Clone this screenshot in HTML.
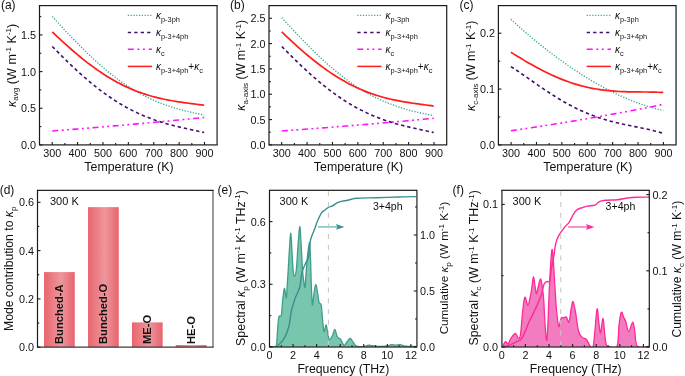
<!DOCTYPE html>
<html><head><meta charset="utf-8"><style>
html,body{margin:0;padding:0;background:#fff;width:685px;height:376px;overflow:hidden}
svg{display:block;will-change:transform}
text{font-family:"Liberation Sans", sans-serif;fill:#111}
</style></head><body>
<svg width="685" height="376" viewBox="0 0 685 376">
<path d="M52.30,16.50 L54.87,19.32 L57.45,22.12 L60.02,24.92 L62.60,27.70 L65.17,30.46 L67.75,33.20 L70.32,35.92 L72.90,38.62 L75.47,41.28 L78.05,43.92 L80.62,46.52 L83.19,49.08 L85.77,51.61 L88.34,54.10 L90.92,56.55 L93.49,58.95 L96.07,61.31 L98.64,63.62 L101.22,65.88 L103.79,68.10 L106.37,70.26 L108.94,72.37 L111.52,74.43 L114.09,76.43 L116.66,78.38 L119.24,80.28 L121.81,82.12 L124.39,83.91 L126.96,85.63 L129.54,87.31 L132.11,88.92 L134.69,90.48 L137.26,91.99 L139.84,93.44 L142.41,94.83 L144.98,96.17 L147.56,97.46 L150.13,98.69 L152.71,99.87 L155.28,101.00 L157.86,102.08 L160.43,103.11 L163.01,104.09 L165.58,105.03 L168.16,105.92 L170.73,106.77 L173.31,107.58 L175.88,108.35 L178.45,109.09 L181.03,109.79 L183.60,110.46 L186.18,111.10 L188.75,111.72 L191.33,112.30 L193.90,112.87 L196.48,113.42 L199.05,113.96 L201.63,114.48 L204.20,114.99" fill="none" stroke="#3aa78a" stroke-width="1.4" stroke-dasharray="1.2 1.6"/>
<path d="M52.30,46.44 L54.87,49.07 L57.45,51.68 L60.02,54.26 L62.60,56.83 L65.17,59.37 L67.75,61.87 L70.32,64.35 L72.90,66.80 L75.47,69.20 L78.05,71.57 L80.62,73.91 L83.19,76.20 L85.77,78.44 L88.34,80.65 L90.92,82.80 L93.49,84.91 L96.07,86.97 L98.64,88.99 L101.22,90.95 L103.79,92.86 L106.37,94.72 L108.94,96.52 L111.52,98.28 L114.09,99.98 L116.66,101.62 L119.24,103.22 L121.81,104.76 L124.39,106.25 L126.96,107.68 L129.54,109.06 L132.11,110.39 L134.69,111.67 L137.26,112.90 L139.84,114.08 L142.41,115.21 L144.98,116.29 L147.56,117.33 L150.13,118.32 L152.71,119.27 L155.28,120.17 L157.86,121.04 L160.43,121.87 L163.01,122.66 L165.58,123.42 L168.16,124.15 L170.73,124.85 L173.31,125.52 L175.88,126.17 L178.45,126.80 L181.03,127.41 L183.60,128.00 L186.18,128.58 L188.75,129.15 L191.33,129.71 L193.90,130.28 L196.48,130.84 L199.05,131.41 L201.63,131.99 L204.20,132.58" fill="none" stroke="#43106b" stroke-width="1.6" stroke-dasharray="3.4 2.9"/>
<path d="M52.30,130.97 L54.87,130.77 L57.45,130.57 L60.02,130.37 L62.60,130.17 L65.17,129.96 L67.75,129.76 L70.32,129.55 L72.90,129.35 L75.47,129.14 L78.05,128.93 L80.62,128.72 L83.19,128.51 L85.77,128.30 L88.34,128.09 L90.92,127.88 L93.49,127.67 L96.07,127.45 L98.64,127.24 L101.22,127.02 L103.79,126.80 L106.37,126.58 L108.94,126.36 L111.52,126.14 L114.09,125.92 L116.66,125.70 L119.24,125.47 L121.81,125.25 L124.39,125.02 L126.96,124.80 L129.54,124.57 L132.11,124.34 L134.69,124.11 L137.26,123.88 L139.84,123.65 L142.41,123.41 L144.98,123.18 L147.56,122.95 L150.13,122.71 L152.71,122.47 L155.28,122.23 L157.86,122.00 L160.43,121.76 L163.01,121.51 L165.58,121.27 L168.16,121.03 L170.73,120.78 L173.31,120.54 L175.88,120.29 L178.45,120.05 L181.03,119.80 L183.60,119.55 L186.18,119.30 L188.75,119.04 L191.33,118.79 L193.90,118.54 L196.48,118.28 L199.05,118.03 L201.63,117.77 L204.20,117.51" fill="none" stroke="#ff12ff" stroke-width="1.6" stroke-dasharray="6 3.5 1.9 3.3 1.9 3.6"/>
<path d="M52.30,31.94 L54.87,34.38 L57.45,36.80 L60.02,39.20 L62.60,41.57 L65.17,43.91 L67.75,46.22 L70.32,48.50 L72.90,50.74 L75.47,52.95 L78.05,55.11 L80.62,57.24 L83.19,59.32 L85.77,61.35 L88.34,63.34 L90.92,65.29 L93.49,67.18 L96.07,69.03 L98.64,70.83 L101.22,72.57 L103.79,74.26 L106.37,75.91 L108.94,77.49 L111.52,79.03 L114.09,80.51 L116.66,81.94 L119.24,83.31 L121.81,84.63 L124.39,85.90 L126.96,87.11 L129.54,88.27 L132.11,89.38 L134.69,90.44 L137.26,91.45 L139.84,92.41 L142.41,93.32 L144.98,94.18 L147.56,94.99 L150.13,95.77 L152.71,96.49 L155.28,97.18 L157.86,97.82 L160.43,98.43 L163.01,99.00 L165.58,99.54 L168.16,100.05 L170.73,100.52 L173.31,100.97 L175.88,101.39 L178.45,101.80 L181.03,102.18 L183.60,102.55 L186.18,102.90 L188.75,103.24 L191.33,103.58 L193.90,103.91 L196.48,104.24 L199.05,104.58 L201.63,104.92 L204.20,105.27" fill="none" stroke="#ff1d1d" stroke-width="1.7"/>
<path d="M281.80,17.70 L284.37,20.51 L286.95,23.30 L289.52,26.09 L292.10,28.86 L294.67,31.61 L297.25,34.34 L299.82,37.05 L302.40,39.74 L304.97,42.39 L307.55,45.02 L310.12,47.61 L312.69,50.16 L315.27,52.68 L317.84,55.16 L320.42,57.59 L322.99,59.99 L325.57,62.34 L328.14,64.64 L330.72,66.89 L333.29,69.09 L335.87,71.25 L338.44,73.35 L341.02,75.40 L343.59,77.39 L346.16,79.33 L348.74,81.22 L351.31,83.05 L353.89,84.82 L356.46,86.54 L359.04,88.20 L361.61,89.81 L364.19,91.36 L366.76,92.85 L369.34,94.29 L371.91,95.67 L374.48,97.00 L377.06,98.28 L379.63,99.50 L382.21,100.67 L384.78,101.79 L387.36,102.86 L389.93,103.88 L392.51,104.85 L395.08,105.78 L397.66,106.66 L400.23,107.50 L402.81,108.30 L405.38,109.07 L407.95,109.79 L410.53,110.48 L413.10,111.14 L415.68,111.77 L418.25,112.38 L420.83,112.96 L423.40,113.51 L425.98,114.05 L428.55,114.58 L431.13,115.09 L433.70,115.59" fill="none" stroke="#3aa78a" stroke-width="1.4" stroke-dasharray="1.2 1.6"/>
<path d="M281.80,46.44 L284.37,49.07 L286.95,51.68 L289.52,54.26 L292.10,56.83 L294.67,59.37 L297.25,61.87 L299.82,64.35 L302.40,66.80 L304.97,69.20 L307.55,71.57 L310.12,73.91 L312.69,76.20 L315.27,78.44 L317.84,80.65 L320.42,82.80 L322.99,84.91 L325.57,86.97 L328.14,88.99 L330.72,90.95 L333.29,92.86 L335.87,94.72 L338.44,96.52 L341.02,98.28 L343.59,99.98 L346.16,101.62 L348.74,103.22 L351.31,104.76 L353.89,106.25 L356.46,107.68 L359.04,109.06 L361.61,110.39 L364.19,111.67 L366.76,112.90 L369.34,114.08 L371.91,115.21 L374.48,116.29 L377.06,117.33 L379.63,118.32 L382.21,119.27 L384.78,120.17 L387.36,121.04 L389.93,121.87 L392.51,122.66 L395.08,123.42 L397.66,124.15 L400.23,124.85 L402.81,125.52 L405.38,126.17 L407.95,126.80 L410.53,127.41 L413.10,128.00 L415.68,128.58 L418.25,129.15 L420.83,129.71 L423.40,130.28 L425.98,130.84 L428.55,131.41 L431.13,131.99 L433.70,132.58" fill="none" stroke="#43106b" stroke-width="1.6" stroke-dasharray="3.4 2.9"/>
<path d="M281.80,130.97 L284.37,130.78 L286.95,130.60 L289.52,130.41 L292.10,130.22 L294.67,130.03 L297.25,129.84 L299.82,129.65 L302.40,129.46 L304.97,129.26 L307.55,129.07 L310.12,128.87 L312.69,128.68 L315.27,128.48 L317.84,128.28 L320.42,128.08 L322.99,127.88 L325.57,127.68 L328.14,127.48 L330.72,127.28 L333.29,127.07 L335.87,126.87 L338.44,126.66 L341.02,126.45 L343.59,126.25 L346.16,126.04 L348.74,125.83 L351.31,125.61 L353.89,125.40 L356.46,125.19 L359.04,124.98 L361.61,124.76 L364.19,124.54 L366.76,124.33 L369.34,124.11 L371.91,123.89 L374.48,123.67 L377.06,123.45 L379.63,123.22 L382.21,123.00 L384.78,122.78 L387.36,122.55 L389.93,122.32 L392.51,122.10 L395.08,121.87 L397.66,121.64 L400.23,121.41 L402.81,121.18 L405.38,120.94 L407.95,120.71 L410.53,120.47 L413.10,120.24 L415.68,120.00 L418.25,119.76 L420.83,119.52 L423.40,119.28 L425.98,119.04 L428.55,118.80 L431.13,118.55 L433.70,118.31" fill="none" stroke="#ff12ff" stroke-width="1.6" stroke-dasharray="6 3.5 1.9 3.3 1.9 3.6"/>
<path d="M281.80,31.94 L284.37,34.40 L286.95,36.83 L289.52,39.24 L292.10,41.63 L294.67,43.98 L297.25,46.31 L299.82,48.60 L302.40,50.85 L304.97,53.07 L307.55,55.25 L310.12,57.38 L312.69,59.48 L315.27,61.53 L317.84,63.53 L320.42,65.49 L322.99,67.40 L325.57,69.26 L328.14,71.07 L330.72,72.83 L333.29,74.54 L335.87,76.19 L338.44,77.79 L341.02,79.34 L343.59,80.83 L346.16,82.28 L348.74,83.66 L351.31,85.00 L353.89,86.28 L356.46,87.51 L359.04,88.68 L361.61,89.80 L364.19,90.88 L366.76,91.90 L369.34,92.87 L371.91,93.79 L374.48,94.67 L377.06,95.50 L379.63,96.28 L382.21,97.02 L384.78,97.72 L387.36,98.38 L389.93,99.00 L392.51,99.59 L395.08,100.14 L397.66,100.66 L400.23,101.15 L402.81,101.61 L405.38,102.05 L407.95,102.46 L410.53,102.86 L413.10,103.24 L415.68,103.60 L418.25,103.96 L420.83,104.31 L423.40,104.66 L425.98,105.00 L428.55,105.35 L431.13,105.71 L433.70,106.07" fill="none" stroke="#ff1d1d" stroke-width="1.7"/>
<path d="M510.90,19.34 L513.48,21.70 L516.07,24.04 L518.65,26.35 L521.23,28.63 L523.82,30.89 L526.40,33.12 L528.98,35.33 L531.56,37.51 L534.15,39.66 L536.73,41.79 L539.31,43.89 L541.90,45.97 L544.48,48.02 L547.06,50.04 L549.65,52.04 L552.23,54.01 L554.81,55.95 L557.39,57.87 L559.98,59.76 L562.56,61.63 L565.14,63.46 L567.73,65.27 L570.31,67.05 L572.89,68.81 L575.48,70.53 L578.06,72.23 L580.64,73.90 L583.23,75.54 L585.81,77.15 L588.39,78.74 L590.97,80.29 L593.56,81.82 L596.14,83.31 L598.72,84.78 L601.31,86.21 L603.89,87.61 L606.47,88.98 L609.06,90.32 L611.64,91.63 L614.22,92.91 L616.81,94.15 L619.39,95.36 L621.97,96.54 L624.55,97.68 L627.14,98.79 L629.72,99.86 L632.30,100.90 L634.89,101.91 L637.47,102.87 L640.05,103.81 L642.64,104.70 L645.22,105.55 L647.80,106.37 L650.38,107.15 L652.97,107.89 L655.55,108.59 L658.13,109.25 L660.72,109.87 L663.30,110.45" fill="none" stroke="#3aa78a" stroke-width="1.4" stroke-dasharray="1.2 1.6"/>
<path d="M510.90,66.56 L513.48,68.24 L516.07,69.96 L518.65,71.71 L521.23,73.48 L523.82,75.26 L526.40,77.06 L528.98,78.86 L531.56,80.67 L534.15,82.47 L536.73,84.26 L539.31,86.04 L541.90,87.81 L544.48,89.55 L547.06,91.28 L549.65,92.98 L552.23,94.65 L554.81,96.28 L557.39,97.88 L559.98,99.45 L562.56,100.98 L565.14,102.46 L567.73,103.91 L570.31,105.31 L572.89,106.66 L575.48,107.97 L578.06,109.23 L580.64,110.45 L583.23,111.62 L585.81,112.74 L588.39,113.81 L590.97,114.84 L593.56,115.82 L596.14,116.75 L598.72,117.64 L601.31,118.49 L603.89,119.30 L606.47,120.07 L609.06,120.79 L611.64,121.49 L614.22,122.15 L616.81,122.78 L619.39,123.38 L621.97,123.96 L624.55,124.52 L627.14,125.06 L629.72,125.59 L632.30,126.11 L634.89,126.63 L637.47,127.14 L640.05,127.66 L642.64,128.19 L645.22,128.73 L647.80,129.29 L650.38,129.88 L652.97,130.50 L655.55,131.16 L658.13,131.86 L660.72,132.61 L663.30,133.42" fill="none" stroke="#43106b" stroke-width="1.6" stroke-dasharray="3.4 2.9"/>
<path d="M510.90,130.73 L513.48,130.36 L516.07,129.98 L518.65,129.61 L521.23,129.23 L523.82,128.85 L526.40,128.46 L528.98,128.08 L531.56,127.69 L534.15,127.30 L536.73,126.90 L539.31,126.51 L541.90,126.11 L544.48,125.71 L547.06,125.30 L549.65,124.89 L552.23,124.48 L554.81,124.07 L557.39,123.66 L559.98,123.24 L562.56,122.82 L565.14,122.40 L567.73,121.97 L570.31,121.54 L572.89,121.11 L575.48,120.68 L578.06,120.24 L580.64,119.80 L583.23,119.36 L585.81,118.92 L588.39,118.47 L590.97,118.02 L593.56,117.57 L596.14,117.12 L598.72,116.66 L601.31,116.20 L603.89,115.74 L606.47,115.27 L609.06,114.81 L611.64,114.33 L614.22,113.86 L616.81,113.39 L619.39,112.91 L621.97,112.43 L624.55,111.95 L627.14,111.46 L629.72,110.97 L632.30,110.48 L634.89,109.99 L637.47,109.49 L640.05,108.99 L642.64,108.49 L645.22,107.98 L647.80,107.48 L650.38,106.97 L652.97,106.46 L655.55,105.94 L658.13,105.42 L660.72,104.90 L663.30,104.38" fill="none" stroke="#ff12ff" stroke-width="1.6" stroke-dasharray="6 3.5 1.9 3.3 1.9 3.6"/>
<path d="M510.90,52.30 L513.48,53.89 L516.07,55.47 L518.65,57.04 L521.23,58.59 L523.82,60.13 L526.40,61.65 L528.98,63.14 L531.56,64.61 L534.15,66.05 L536.73,67.47 L539.31,68.85 L541.90,70.20 L544.48,71.52 L547.06,72.79 L549.65,74.04 L552.23,75.24 L554.81,76.40 L557.39,77.52 L559.98,78.60 L562.56,79.63 L565.14,80.62 L567.73,81.57 L570.31,82.47 L572.89,83.32 L575.48,84.13 L578.06,84.90 L580.64,85.62 L583.23,86.29 L585.81,86.92 L588.39,87.51 L590.97,88.05 L593.56,88.55 L596.14,89.01 L598.72,89.43 L601.31,89.81 L603.89,90.15 L606.47,90.45 L609.06,90.72 L611.64,90.96 L614.22,91.16 L616.81,91.33 L619.39,91.48 L621.97,91.60 L624.55,91.70 L627.14,91.78 L629.72,91.84 L632.30,91.89 L634.89,91.92 L637.47,91.94 L640.05,91.96 L642.64,91.98 L645.22,92.00 L647.80,92.02 L650.38,92.05 L652.97,92.10 L655.55,92.15 L658.13,92.23 L660.72,92.34 L663.30,92.47" fill="none" stroke="#ff1d1d" stroke-width="1.7"/>
<rect x="39.50" y="5.60" width="177.70" height="139.30" fill="none" stroke="#1a1a1a" stroke-width="1.20"/>
<line x1="52.19" y1="144.90" x2="52.19" y2="141.90" stroke="#1a1a1a" stroke-width="1.1"/>
<text x="52.19" y="157.00" font-size="10.80" text-anchor="middle" >300</text>
<line x1="64.89" y1="144.90" x2="64.89" y2="143.10" stroke="#1a1a1a" stroke-width="1.1"/>
<line x1="77.58" y1="144.90" x2="77.58" y2="141.90" stroke="#1a1a1a" stroke-width="1.1"/>
<text x="77.58" y="157.00" font-size="10.80" text-anchor="middle" >400</text>
<line x1="90.27" y1="144.90" x2="90.27" y2="143.10" stroke="#1a1a1a" stroke-width="1.1"/>
<line x1="102.96" y1="144.90" x2="102.96" y2="141.90" stroke="#1a1a1a" stroke-width="1.1"/>
<text x="102.96" y="157.00" font-size="10.80" text-anchor="middle" >500</text>
<line x1="115.66" y1="144.90" x2="115.66" y2="143.10" stroke="#1a1a1a" stroke-width="1.1"/>
<line x1="128.35" y1="144.90" x2="128.35" y2="141.90" stroke="#1a1a1a" stroke-width="1.1"/>
<text x="128.35" y="157.00" font-size="10.80" text-anchor="middle" >600</text>
<line x1="141.04" y1="144.90" x2="141.04" y2="143.10" stroke="#1a1a1a" stroke-width="1.1"/>
<line x1="153.74" y1="144.90" x2="153.74" y2="141.90" stroke="#1a1a1a" stroke-width="1.1"/>
<text x="153.74" y="157.00" font-size="10.80" text-anchor="middle" >700</text>
<line x1="166.43" y1="144.90" x2="166.43" y2="143.10" stroke="#1a1a1a" stroke-width="1.1"/>
<line x1="179.12" y1="144.90" x2="179.12" y2="141.90" stroke="#1a1a1a" stroke-width="1.1"/>
<text x="179.12" y="157.00" font-size="10.80" text-anchor="middle" >800</text>
<line x1="191.81" y1="144.90" x2="191.81" y2="143.10" stroke="#1a1a1a" stroke-width="1.1"/>
<line x1="204.51" y1="144.90" x2="204.51" y2="141.90" stroke="#1a1a1a" stroke-width="1.1"/>
<text x="204.51" y="157.00" font-size="10.80" text-anchor="middle" >900</text>
<line x1="127.80" y1="15.40" x2="152.00" y2="15.40" stroke="#3aa78a" stroke-width="1.4" stroke-dasharray="1.2 1.6"/>
<line x1="127.80" y1="32.40" x2="152.00" y2="32.40" stroke="#43106b" stroke-width="1.5" stroke-dasharray="3.3 3.15"/>
<line x1="127.80" y1="49.30" x2="152.00" y2="49.30" stroke="#ff12ff" stroke-width="1.5" stroke-dasharray="6 3.6 2 3.45 2 3.85"/>
<line x1="127.80" y1="66.40" x2="152.00" y2="66.40" stroke="#ff1d1d" stroke-width="1.5"/>
<text x="156.00" y="18.90" font-size="10"><tspan font-style="italic">κ</tspan><tspan font-size="7.40" dy="3.00">p-3ph</tspan></text>
<text x="156.00" y="35.90" font-size="10"><tspan font-style="italic">κ</tspan><tspan font-size="7.40" dy="3.00">p-3+4ph</tspan></text>
<text x="156.00" y="52.80" font-size="10"><tspan font-style="italic">κ</tspan><tspan font-size="7.40" dy="3.00">c</tspan></text>
<text x="156.00" y="69.90" font-size="10"><tspan font-style="italic">κ</tspan><tspan font-size="7.40" dy="3.00">p-3+4ph</tspan><tspan dy="-3.00">+</tspan><tspan font-style="italic">κ</tspan><tspan font-size="7.40" dy="3.00">c</tspan></text>
<text x="128.95" y="171.40" font-size="12.35" text-anchor="middle" >Temperature (K)</text>
<rect x="269.00" y="5.60" width="177.70" height="139.30" fill="none" stroke="#1a1a1a" stroke-width="1.20"/>
<line x1="281.69" y1="144.90" x2="281.69" y2="141.90" stroke="#1a1a1a" stroke-width="1.1"/>
<text x="281.69" y="157.00" font-size="10.80" text-anchor="middle" >300</text>
<line x1="294.39" y1="144.90" x2="294.39" y2="143.10" stroke="#1a1a1a" stroke-width="1.1"/>
<line x1="307.08" y1="144.90" x2="307.08" y2="141.90" stroke="#1a1a1a" stroke-width="1.1"/>
<text x="307.08" y="157.00" font-size="10.80" text-anchor="middle" >400</text>
<line x1="319.77" y1="144.90" x2="319.77" y2="143.10" stroke="#1a1a1a" stroke-width="1.1"/>
<line x1="332.46" y1="144.90" x2="332.46" y2="141.90" stroke="#1a1a1a" stroke-width="1.1"/>
<text x="332.46" y="157.00" font-size="10.80" text-anchor="middle" >500</text>
<line x1="345.16" y1="144.90" x2="345.16" y2="143.10" stroke="#1a1a1a" stroke-width="1.1"/>
<line x1="357.85" y1="144.90" x2="357.85" y2="141.90" stroke="#1a1a1a" stroke-width="1.1"/>
<text x="357.85" y="157.00" font-size="10.80" text-anchor="middle" >600</text>
<line x1="370.54" y1="144.90" x2="370.54" y2="143.10" stroke="#1a1a1a" stroke-width="1.1"/>
<line x1="383.24" y1="144.90" x2="383.24" y2="141.90" stroke="#1a1a1a" stroke-width="1.1"/>
<text x="383.24" y="157.00" font-size="10.80" text-anchor="middle" >700</text>
<line x1="395.93" y1="144.90" x2="395.93" y2="143.10" stroke="#1a1a1a" stroke-width="1.1"/>
<line x1="408.62" y1="144.90" x2="408.62" y2="141.90" stroke="#1a1a1a" stroke-width="1.1"/>
<text x="408.62" y="157.00" font-size="10.80" text-anchor="middle" >800</text>
<line x1="421.31" y1="144.90" x2="421.31" y2="143.10" stroke="#1a1a1a" stroke-width="1.1"/>
<line x1="434.01" y1="144.90" x2="434.01" y2="141.90" stroke="#1a1a1a" stroke-width="1.1"/>
<text x="434.01" y="157.00" font-size="10.80" text-anchor="middle" >900</text>
<line x1="357.30" y1="15.40" x2="381.50" y2="15.40" stroke="#3aa78a" stroke-width="1.4" stroke-dasharray="1.2 1.6"/>
<line x1="357.30" y1="32.40" x2="381.50" y2="32.40" stroke="#43106b" stroke-width="1.5" stroke-dasharray="3.3 3.15"/>
<line x1="357.30" y1="49.30" x2="381.50" y2="49.30" stroke="#ff12ff" stroke-width="1.5" stroke-dasharray="6 3.6 2 3.45 2 3.85"/>
<line x1="357.30" y1="66.40" x2="381.50" y2="66.40" stroke="#ff1d1d" stroke-width="1.5"/>
<text x="385.50" y="18.90" font-size="10"><tspan font-style="italic">κ</tspan><tspan font-size="7.40" dy="3.00">p-3ph</tspan></text>
<text x="385.50" y="35.90" font-size="10"><tspan font-style="italic">κ</tspan><tspan font-size="7.40" dy="3.00">p-3+4ph</tspan></text>
<text x="385.50" y="52.80" font-size="10"><tspan font-style="italic">κ</tspan><tspan font-size="7.40" dy="3.00">c</tspan></text>
<text x="385.50" y="69.90" font-size="10"><tspan font-style="italic">κ</tspan><tspan font-size="7.40" dy="3.00">p-3+4ph</tspan><tspan dy="-3.00">+</tspan><tspan font-style="italic">κ</tspan><tspan font-size="7.40" dy="3.00">c</tspan></text>
<text x="358.45" y="171.40" font-size="12.35" text-anchor="middle" >Temperature (K)</text>
<rect x="498.40" y="5.60" width="177.70" height="139.30" fill="none" stroke="#1a1a1a" stroke-width="1.20"/>
<line x1="511.09" y1="144.90" x2="511.09" y2="141.90" stroke="#1a1a1a" stroke-width="1.1"/>
<text x="511.09" y="157.00" font-size="10.80" text-anchor="middle" >300</text>
<line x1="523.79" y1="144.90" x2="523.79" y2="143.10" stroke="#1a1a1a" stroke-width="1.1"/>
<line x1="536.48" y1="144.90" x2="536.48" y2="141.90" stroke="#1a1a1a" stroke-width="1.1"/>
<text x="536.48" y="157.00" font-size="10.80" text-anchor="middle" >400</text>
<line x1="549.17" y1="144.90" x2="549.17" y2="143.10" stroke="#1a1a1a" stroke-width="1.1"/>
<line x1="561.86" y1="144.90" x2="561.86" y2="141.90" stroke="#1a1a1a" stroke-width="1.1"/>
<text x="561.86" y="157.00" font-size="10.80" text-anchor="middle" >500</text>
<line x1="574.56" y1="144.90" x2="574.56" y2="143.10" stroke="#1a1a1a" stroke-width="1.1"/>
<line x1="587.25" y1="144.90" x2="587.25" y2="141.90" stroke="#1a1a1a" stroke-width="1.1"/>
<text x="587.25" y="157.00" font-size="10.80" text-anchor="middle" >600</text>
<line x1="599.94" y1="144.90" x2="599.94" y2="143.10" stroke="#1a1a1a" stroke-width="1.1"/>
<line x1="612.64" y1="144.90" x2="612.64" y2="141.90" stroke="#1a1a1a" stroke-width="1.1"/>
<text x="612.64" y="157.00" font-size="10.80" text-anchor="middle" >700</text>
<line x1="625.33" y1="144.90" x2="625.33" y2="143.10" stroke="#1a1a1a" stroke-width="1.1"/>
<line x1="638.02" y1="144.90" x2="638.02" y2="141.90" stroke="#1a1a1a" stroke-width="1.1"/>
<text x="638.02" y="157.00" font-size="10.80" text-anchor="middle" >800</text>
<line x1="650.71" y1="144.90" x2="650.71" y2="143.10" stroke="#1a1a1a" stroke-width="1.1"/>
<line x1="663.41" y1="144.90" x2="663.41" y2="141.90" stroke="#1a1a1a" stroke-width="1.1"/>
<text x="663.41" y="157.00" font-size="10.80" text-anchor="middle" >900</text>
<line x1="586.70" y1="15.40" x2="610.90" y2="15.40" stroke="#3aa78a" stroke-width="1.4" stroke-dasharray="1.2 1.6"/>
<line x1="586.70" y1="32.40" x2="610.90" y2="32.40" stroke="#43106b" stroke-width="1.5" stroke-dasharray="3.3 3.15"/>
<line x1="586.70" y1="49.30" x2="610.90" y2="49.30" stroke="#ff12ff" stroke-width="1.5" stroke-dasharray="6 3.6 2 3.45 2 3.85"/>
<line x1="586.70" y1="66.40" x2="610.90" y2="66.40" stroke="#ff1d1d" stroke-width="1.5"/>
<text x="614.90" y="18.90" font-size="10"><tspan font-style="italic">κ</tspan><tspan font-size="7.40" dy="3.00">p-3ph</tspan></text>
<text x="614.90" y="35.90" font-size="10"><tspan font-style="italic">κ</tspan><tspan font-size="7.40" dy="3.00">p-3+4ph</tspan></text>
<text x="614.90" y="52.80" font-size="10"><tspan font-style="italic">κ</tspan><tspan font-size="7.40" dy="3.00">c</tspan></text>
<text x="614.90" y="69.90" font-size="10"><tspan font-style="italic">κ</tspan><tspan font-size="7.40" dy="3.00">p-3+4ph</tspan><tspan dy="-3.00">+</tspan><tspan font-style="italic">κ</tspan><tspan font-size="7.40" dy="3.00">c</tspan></text>
<text x="587.85" y="171.40" font-size="12.35" text-anchor="middle" >Temperature (K)</text>
<line x1="217.20" y1="6.20" x2="217.20" y2="144.30" stroke="#6e6e6e" stroke-width="1.4"/>
<line x1="676.10" y1="6.20" x2="676.10" y2="144.30" stroke="#6e6e6e" stroke-width="1.4"/>
<line x1="39.50" y1="144.90" x2="42.50" y2="144.90" stroke="#1a1a1a" stroke-width="1.1"/>
<text x="36.00" y="148.85" font-size="10.80" text-anchor="end" >0.0</text>
<line x1="39.50" y1="108.25" x2="42.50" y2="108.25" stroke="#1a1a1a" stroke-width="1.1"/>
<text x="36.00" y="112.20" font-size="10.80" text-anchor="end" >0.5</text>
<line x1="39.50" y1="71.60" x2="42.50" y2="71.60" stroke="#1a1a1a" stroke-width="1.1"/>
<text x="36.00" y="75.55" font-size="10.80" text-anchor="end" >1.0</text>
<line x1="39.50" y1="34.95" x2="42.50" y2="34.95" stroke="#1a1a1a" stroke-width="1.1"/>
<text x="36.00" y="38.90" font-size="10.80" text-anchor="end" >1.5</text>
<line x1="39.50" y1="126.58" x2="41.30" y2="126.58" stroke="#1a1a1a" stroke-width="1.1"/>
<line x1="39.50" y1="89.93" x2="41.30" y2="89.93" stroke="#1a1a1a" stroke-width="1.1"/>
<line x1="39.50" y1="53.28" x2="41.30" y2="53.28" stroke="#1a1a1a" stroke-width="1.1"/>
<line x1="39.50" y1="16.62" x2="41.30" y2="16.62" stroke="#1a1a1a" stroke-width="1.1"/>
<line x1="269.00" y1="144.90" x2="272.00" y2="144.90" stroke="#1a1a1a" stroke-width="1.1"/>
<text x="265.50" y="148.85" font-size="10.80" text-anchor="end" >0.0</text>
<line x1="269.00" y1="119.58" x2="272.00" y2="119.58" stroke="#1a1a1a" stroke-width="1.1"/>
<text x="265.50" y="123.53" font-size="10.80" text-anchor="end" >0.5</text>
<line x1="269.00" y1="94.25" x2="272.00" y2="94.25" stroke="#1a1a1a" stroke-width="1.1"/>
<text x="265.50" y="98.20" font-size="10.80" text-anchor="end" >1.0</text>
<line x1="269.00" y1="68.93" x2="272.00" y2="68.93" stroke="#1a1a1a" stroke-width="1.1"/>
<text x="265.50" y="72.88" font-size="10.80" text-anchor="end" >1.5</text>
<line x1="269.00" y1="43.60" x2="272.00" y2="43.60" stroke="#1a1a1a" stroke-width="1.1"/>
<text x="265.50" y="47.55" font-size="10.80" text-anchor="end" >2.0</text>
<line x1="269.00" y1="18.28" x2="272.00" y2="18.28" stroke="#1a1a1a" stroke-width="1.1"/>
<text x="265.50" y="22.23" font-size="10.80" text-anchor="end" >2.5</text>
<line x1="269.00" y1="132.24" x2="270.80" y2="132.24" stroke="#1a1a1a" stroke-width="1.1"/>
<line x1="269.00" y1="106.91" x2="270.80" y2="106.91" stroke="#1a1a1a" stroke-width="1.1"/>
<line x1="269.00" y1="81.59" x2="270.80" y2="81.59" stroke="#1a1a1a" stroke-width="1.1"/>
<line x1="269.00" y1="56.26" x2="270.80" y2="56.26" stroke="#1a1a1a" stroke-width="1.1"/>
<line x1="269.00" y1="30.94" x2="270.80" y2="30.94" stroke="#1a1a1a" stroke-width="1.1"/>
<line x1="498.40" y1="144.90" x2="501.40" y2="144.90" stroke="#1a1a1a" stroke-width="1.1"/>
<text x="494.90" y="148.85" font-size="10.80" text-anchor="end" >0.0</text>
<line x1="498.40" y1="89.05" x2="501.40" y2="89.05" stroke="#1a1a1a" stroke-width="1.1"/>
<text x="494.90" y="93.00" font-size="10.80" text-anchor="end" >0.1</text>
<line x1="498.40" y1="33.20" x2="501.40" y2="33.20" stroke="#1a1a1a" stroke-width="1.1"/>
<text x="494.90" y="37.15" font-size="10.80" text-anchor="end" >0.2</text>
<line x1="498.40" y1="116.98" x2="500.20" y2="116.98" stroke="#1a1a1a" stroke-width="1.1"/>
<line x1="498.40" y1="61.13" x2="500.20" y2="61.13" stroke="#1a1a1a" stroke-width="1.1"/>
<text x="0.90" y="9.20" font-size="12.00" text-anchor="start" >(a)</text>
<text x="230.00" y="9.20" font-size="12.00" text-anchor="start" >(b)</text>
<text x="459.40" y="9.20" font-size="12.00" text-anchor="start" >(c)</text>
<text x="-0.30" y="194.20" font-size="12.00" text-anchor="start" >(d)</text>
<text x="217.50" y="194.20" font-size="12.00" text-anchor="start" >(e)</text>
<text x="452.60" y="194.20" font-size="12.00" text-anchor="start" >(f)</text>
<text transform="translate(15.60,65.40) rotate(-90)" x="0" y="0" font-size="12.6" text-anchor="middle"><tspan font-style="italic">κ</tspan><tspan font-size="8.10" dy="2.60">avg</tspan><tspan dy="-2.60"> (W m</tspan><tspan font-size="8.00" dy="-4.80">-1</tspan><tspan dy="4.80"> K</tspan><tspan font-size="8.00" dy="-4.80">-1</tspan><tspan dy="4.80">)</tspan></text>
<text transform="translate(245.30,65.25) rotate(-90)" x="0" y="0" font-size="12.4" text-anchor="middle"><tspan font-style="italic">κ</tspan><tspan font-size="8.10" dy="2.60">a-axis</tspan><tspan dy="-2.60"> (W m</tspan><tspan font-size="8.00" dy="-4.80">-1</tspan><tspan dy="4.80"> K</tspan><tspan font-size="8.00" dy="-4.80">-1</tspan><tspan dy="4.80">)</tspan></text>
<text transform="translate(475.30,65.80) rotate(-90)" x="0" y="0" font-size="12.4" text-anchor="middle"><tspan font-style="italic">κ</tspan><tspan font-size="8.10" dy="2.60">c-axis</tspan><tspan dy="-2.60"> (W m</tspan><tspan font-size="8.00" dy="-4.80">-1</tspan><tspan dy="4.80"> K</tspan><tspan font-size="8.00" dy="-4.80">-1</tspan><tspan dy="4.80">)</tspan></text>
<defs><linearGradient id="bar" x1="0" x2="1" y1="0" y2="0"><stop offset="0" stop-color="#e8646e"/><stop offset="0.55" stop-color="#ee979c"/><stop offset="1" stop-color="#e8646e"/></linearGradient></defs>
<rect x="44.05" y="272.09" width="30.70" height="75.11" fill="url(#bar)"/>
<rect x="88.05" y="207.13" width="30.70" height="140.07" fill="url(#bar)"/>
<rect x="131.95" y="322.40" width="30.70" height="24.80" fill="url(#bar)"/>
<rect x="175.75" y="344.98" width="30.70" height="2.22" fill="url(#bar)"/>
<text transform="translate(63.40,344.00) rotate(-90)" x="0" y="0" font-size="11.2" font-weight="bold">Bunched-A</text>
<text transform="translate(107.40,344.00) rotate(-90)" x="0" y="0" font-size="11.2" font-weight="bold">Bunched-O</text>
<text transform="translate(151.30,344.00) rotate(-90)" x="0" y="0" font-size="11.2" font-weight="bold">ME-O</text>
<text transform="translate(195.10,344.00) rotate(-90)" x="0" y="0" font-size="11.2" font-weight="bold">HE-O</text>
<line x1="213.00" y1="190.30" x2="213.00" y2="347.20" stroke="#666" stroke-width="1.3"/>
<line x1="37.50" y1="190.30" x2="213.60" y2="190.30" stroke="#222" stroke-width="1.2"/>
<line x1="37.50" y1="347.20" x2="213.60" y2="347.20" stroke="#3a3a3a" stroke-width="1.3"/>
<line x1="37.50" y1="189.70" x2="37.50" y2="347.80" stroke="#1a1a1a" stroke-width="1.2"/>
<line x1="37.50" y1="347.20" x2="40.50" y2="347.20" stroke="#1a1a1a" stroke-width="1.1"/>
<text x="34.10" y="351.15" font-size="10.80" text-anchor="end" >0.0</text>
<line x1="37.50" y1="298.90" x2="40.50" y2="298.90" stroke="#1a1a1a" stroke-width="1.1"/>
<text x="34.10" y="302.85" font-size="10.80" text-anchor="end" >0.2</text>
<line x1="37.50" y1="250.60" x2="40.50" y2="250.60" stroke="#1a1a1a" stroke-width="1.1"/>
<text x="34.10" y="254.55" font-size="10.80" text-anchor="end" >0.4</text>
<line x1="37.50" y1="202.30" x2="40.50" y2="202.30" stroke="#1a1a1a" stroke-width="1.1"/>
<text x="34.10" y="206.25" font-size="10.80" text-anchor="end" >0.6</text>
<line x1="37.50" y1="323.05" x2="39.30" y2="323.05" stroke="#1a1a1a" stroke-width="1.1"/>
<line x1="37.50" y1="274.75" x2="39.30" y2="274.75" stroke="#1a1a1a" stroke-width="1.1"/>
<line x1="37.50" y1="226.45" x2="39.30" y2="226.45" stroke="#1a1a1a" stroke-width="1.1"/>
<text x="50.00" y="205.00" font-size="11.00" text-anchor="start" >300 K</text>
<text transform="translate(13.40,268.80) rotate(-90)" x="0" y="0" font-size="12.2" text-anchor="middle"><tspan>Mode contribution to </tspan><tspan font-style="italic">κ</tspan><tspan font-size="8.10" dy="2.60">p</tspan></text>
<clipPath id="ce"><rect x="269.50" y="190.30" width="147.30" height="156.50"/></clipPath>
<g clip-path="url(#ce)">
<path d="M269.80,346.40 C270.83,346.37 274.73,348.60 276.00,346.20 C277.27,343.80 276.97,336.70 277.40,332.00 C277.83,327.30 278.23,320.67 278.60,318.00 C278.97,315.33 279.15,316.45 279.60,316.00 C280.05,315.55 280.87,316.97 281.30,315.30 C281.73,313.63 281.92,309.05 282.20,306.00 C282.48,302.95 282.63,299.92 283.00,297.00 C283.37,294.08 283.98,289.00 284.40,288.50 C284.82,288.00 285.17,292.50 285.50,294.00 C285.83,295.50 286.12,298.83 286.40,297.50 C286.68,296.17 286.90,290.58 287.20,286.00 C287.50,281.42 287.82,276.33 288.20,270.00 C288.58,263.67 289.07,254.12 289.50,248.00 C289.93,241.88 290.38,232.63 290.80,233.30 C291.22,233.97 291.63,246.05 292.00,252.00 C292.37,257.95 292.63,264.93 293.00,269.00 C293.37,273.07 293.65,276.23 294.20,276.40 C294.75,276.57 295.63,275.57 296.30,270.00 C296.97,264.43 297.60,250.22 298.20,243.00 C298.80,235.78 299.38,225.87 299.90,226.70 C300.42,227.53 300.87,240.78 301.30,248.00 C301.73,255.22 302.05,264.17 302.50,270.00 C302.95,275.83 303.57,280.20 304.00,283.00 C304.43,285.80 304.72,288.97 305.10,286.80 C305.48,284.63 305.93,274.80 306.30,270.00 C306.67,265.20 306.78,262.65 307.30,258.00 C307.82,253.35 308.87,242.10 309.40,242.10 C309.93,242.10 310.18,250.85 310.50,258.00 C310.82,265.15 310.98,277.17 311.30,285.00 C311.62,292.83 311.97,303.50 312.40,305.00 C312.83,306.50 313.35,297.40 313.90,294.00 C314.45,290.60 315.08,284.77 315.70,284.60 C316.32,284.43 317.05,290.05 317.60,293.00 C318.15,295.95 318.40,300.27 319.00,302.30 C319.60,304.33 320.58,302.03 321.20,305.20 C321.82,308.37 322.22,316.90 322.70,321.30 C323.18,325.70 323.52,330.98 324.10,331.60 C324.68,332.22 325.57,324.52 326.20,325.00 C326.83,325.48 327.37,332.07 327.90,334.50 C328.43,336.93 328.67,339.35 329.40,339.60 C330.13,339.85 331.40,337.70 332.30,336.00 C333.20,334.30 334.07,329.53 334.80,329.40 C335.53,329.27 336.08,333.73 336.70,335.20 C337.32,336.67 337.88,337.58 338.50,338.20 C339.12,338.82 339.48,337.72 340.40,338.90 C341.32,340.08 342.90,344.82 344.00,345.30 C345.10,345.78 345.97,342.93 347.00,341.80 C348.03,340.67 349.12,338.37 350.20,338.50 C351.28,338.63 352.45,341.32 353.50,342.60 C354.55,343.88 354.58,345.58 356.50,346.20 C358.42,346.82 363.18,346.42 365.00,346.30 C366.82,346.18 366.50,345.67 367.40,345.50 C368.30,345.33 369.05,345.18 370.40,345.30 C371.75,345.42 373.73,346.03 375.50,346.20 C377.27,346.37 379.08,346.33 381.00,346.30 C382.92,346.27 385.25,346.28 387.00,346.00 C388.75,345.72 390.08,344.75 391.50,344.60 C392.92,344.45 394.08,345.08 395.50,345.10 C396.92,345.12 398.58,344.55 400.00,344.70 C401.42,344.85 402.67,345.72 404.00,346.00 C405.33,346.28 405.92,346.33 408.00,346.40 C410.08,346.47 415.08,346.40 416.50,346.40 L416.80,347.00 L269.50,347.00 Z" fill="#77c6ad" stroke="none"/>
<path d="M269.80,346.40 C270.83,346.37 274.73,348.60 276.00,346.20 C277.27,343.80 276.97,336.70 277.40,332.00 C277.83,327.30 278.23,320.67 278.60,318.00 C278.97,315.33 279.15,316.45 279.60,316.00 C280.05,315.55 280.87,316.97 281.30,315.30 C281.73,313.63 281.92,309.05 282.20,306.00 C282.48,302.95 282.63,299.92 283.00,297.00 C283.37,294.08 283.98,289.00 284.40,288.50 C284.82,288.00 285.17,292.50 285.50,294.00 C285.83,295.50 286.12,298.83 286.40,297.50 C286.68,296.17 286.90,290.58 287.20,286.00 C287.50,281.42 287.82,276.33 288.20,270.00 C288.58,263.67 289.07,254.12 289.50,248.00 C289.93,241.88 290.38,232.63 290.80,233.30 C291.22,233.97 291.63,246.05 292.00,252.00 C292.37,257.95 292.63,264.93 293.00,269.00 C293.37,273.07 293.65,276.23 294.20,276.40 C294.75,276.57 295.63,275.57 296.30,270.00 C296.97,264.43 297.60,250.22 298.20,243.00 C298.80,235.78 299.38,225.87 299.90,226.70 C300.42,227.53 300.87,240.78 301.30,248.00 C301.73,255.22 302.05,264.17 302.50,270.00 C302.95,275.83 303.57,280.20 304.00,283.00 C304.43,285.80 304.72,288.97 305.10,286.80 C305.48,284.63 305.93,274.80 306.30,270.00 C306.67,265.20 306.78,262.65 307.30,258.00 C307.82,253.35 308.87,242.10 309.40,242.10 C309.93,242.10 310.18,250.85 310.50,258.00 C310.82,265.15 310.98,277.17 311.30,285.00 C311.62,292.83 311.97,303.50 312.40,305.00 C312.83,306.50 313.35,297.40 313.90,294.00 C314.45,290.60 315.08,284.77 315.70,284.60 C316.32,284.43 317.05,290.05 317.60,293.00 C318.15,295.95 318.40,300.27 319.00,302.30 C319.60,304.33 320.58,302.03 321.20,305.20 C321.82,308.37 322.22,316.90 322.70,321.30 C323.18,325.70 323.52,330.98 324.10,331.60 C324.68,332.22 325.57,324.52 326.20,325.00 C326.83,325.48 327.37,332.07 327.90,334.50 C328.43,336.93 328.67,339.35 329.40,339.60 C330.13,339.85 331.40,337.70 332.30,336.00 C333.20,334.30 334.07,329.53 334.80,329.40 C335.53,329.27 336.08,333.73 336.70,335.20 C337.32,336.67 337.88,337.58 338.50,338.20 C339.12,338.82 339.48,337.72 340.40,338.90 C341.32,340.08 342.90,344.82 344.00,345.30 C345.10,345.78 345.97,342.93 347.00,341.80 C348.03,340.67 349.12,338.37 350.20,338.50 C351.28,338.63 352.45,341.32 353.50,342.60 C354.55,343.88 354.58,345.58 356.50,346.20 C358.42,346.82 363.18,346.42 365.00,346.30 C366.82,346.18 366.50,345.67 367.40,345.50 C368.30,345.33 369.05,345.18 370.40,345.30 C371.75,345.42 373.73,346.03 375.50,346.20 C377.27,346.37 379.08,346.33 381.00,346.30 C382.92,346.27 385.25,346.28 387.00,346.00 C388.75,345.72 390.08,344.75 391.50,344.60 C392.92,344.45 394.08,345.08 395.50,345.10 C396.92,345.12 398.58,344.55 400.00,344.70 C401.42,344.85 402.67,345.72 404.00,346.00 C405.33,346.28 405.92,346.33 408.00,346.40 C410.08,346.47 415.08,346.40 416.50,346.40" fill="none" stroke="#3f9d8c" stroke-width="1.3" stroke-linejoin="round"/>
<path d="M269.80,346.60 C270.93,346.60 274.57,347.48 276.60,346.60 C278.63,345.72 280.67,342.80 282.00,341.30 C283.33,339.80 283.85,338.90 284.60,337.60 C285.35,336.30 285.72,335.67 286.50,333.50 C287.28,331.33 288.50,328.30 289.30,324.60 C290.10,320.90 290.30,315.73 291.30,311.30 C292.30,306.87 294.27,301.05 295.30,298.00 C296.33,294.95 296.72,295.00 297.50,293.00 C298.28,291.00 299.28,289.33 300.00,286.00 C300.72,282.67 300.97,276.58 301.80,273.00 C302.63,269.42 303.90,267.08 305.00,264.50 C306.10,261.92 307.63,260.25 308.40,257.50 C309.17,254.75 309.23,251.00 309.60,248.00 C309.97,245.00 310.05,241.97 310.60,239.50 C311.15,237.03 312.17,235.12 312.90,233.20 C313.63,231.28 314.27,229.95 315.00,228.00 C315.73,226.05 316.18,224.05 317.30,221.50 C318.42,218.95 320.35,214.65 321.70,212.70 C323.05,210.75 324.30,210.70 325.40,209.80 C326.50,208.90 327.08,207.97 328.30,207.30 C329.52,206.63 331.23,206.53 332.70,205.80 C334.17,205.07 335.52,203.68 337.10,202.90 C338.68,202.12 340.62,201.50 342.20,201.10 C343.78,200.70 344.90,200.85 346.60,200.50 C348.30,200.15 350.70,199.38 352.40,199.00 C354.10,198.62 352.65,198.42 356.80,198.20 C360.95,197.98 370.15,197.90 377.30,197.70 C384.45,197.50 393.17,197.18 399.70,197.00 C406.23,196.82 413.70,196.67 416.50,196.60" fill="none" stroke="#3a8f8c" stroke-width="1.4" stroke-linejoin="round"/>
</g>
<clipPath id="cf"><rect x="501.80" y="190.30" width="147.50" height="156.50"/></clipPath>
<g clip-path="url(#cf)">
<path d="M502.00,346.40 C502.17,346.25 502.40,346.32 503.00,345.50 C503.60,344.68 504.77,341.75 505.60,341.50 C506.43,341.25 507.10,344.55 508.00,344.00 C508.90,343.45 509.77,339.98 511.00,338.20 C512.23,336.42 514.18,333.30 515.40,333.30 C516.62,333.30 517.45,338.00 518.30,338.20 C519.15,338.40 519.77,339.02 520.50,334.50 C521.23,329.98 521.97,317.32 522.70,311.10 C523.43,304.88 524.05,298.18 524.90,297.20 C525.75,296.22 526.95,305.08 527.80,305.20 C528.65,305.32 529.38,300.43 530.00,297.90 C530.62,295.37 530.93,293.48 531.50,290.00 C532.07,286.52 532.82,277.67 533.40,277.00 C533.98,276.33 534.48,283.25 535.00,286.00 C535.52,288.75 535.90,293.67 536.50,293.50 C537.10,293.33 537.90,287.42 538.60,285.00 C539.30,282.58 540.07,278.50 540.70,279.00 C541.33,279.50 541.90,284.50 542.40,288.00 C542.90,291.50 543.22,293.33 543.70,300.00 C544.18,306.67 544.78,321.27 545.30,328.00 C545.82,334.73 546.35,341.40 546.80,340.40 C547.25,339.40 547.63,329.40 548.00,322.00 C548.37,314.60 548.60,305.00 549.00,296.00 C549.40,287.00 549.90,275.75 550.40,268.00 C550.90,260.25 551.50,250.50 552.00,249.50 C552.50,248.50 552.95,256.42 553.40,262.00 C553.85,267.58 554.33,277.00 554.70,283.00 C555.07,289.00 555.25,293.00 555.60,298.00 C555.95,303.00 556.27,308.25 556.80,313.00 C557.33,317.75 558.07,325.67 558.80,326.50 C559.53,327.33 560.35,319.47 561.20,318.00 C562.05,316.53 563.03,317.87 563.90,317.70 C564.77,317.53 565.55,316.27 566.40,317.00 C567.25,317.73 568.18,323.60 569.00,322.10 C569.82,320.60 570.62,311.42 571.30,308.00 C571.98,304.58 572.38,300.83 573.10,301.60 C573.82,302.37 574.70,307.70 575.60,312.60 C576.50,317.50 577.40,326.87 578.50,331.00 C579.60,335.13 580.85,335.97 582.20,337.40 C583.55,338.83 585.27,338.13 586.60,339.60 C587.93,341.07 589.10,345.10 590.20,346.20 C591.30,347.30 592.40,348.90 593.20,346.20 C594.00,343.50 594.35,336.22 595.00,330.00 C595.65,323.78 596.47,310.23 597.10,308.90 C597.73,307.57 598.23,317.98 598.80,322.00 C599.37,326.02 599.80,333.60 600.50,333.00 C601.20,332.40 602.28,318.07 603.00,318.40 C603.72,318.73 604.25,330.60 604.80,335.00 C605.35,339.40 605.68,342.93 606.30,344.80 C606.92,346.67 606.72,345.97 608.50,346.20 C610.28,346.43 615.23,349.85 617.00,346.20 C618.77,342.55 618.38,329.95 619.10,324.30 C619.82,318.65 620.57,313.52 621.30,312.30 C622.03,311.08 622.77,315.50 623.50,317.00 C624.23,318.50 624.83,318.87 625.70,321.30 C626.57,323.73 627.52,331.47 628.70,331.60 C629.88,331.73 631.78,322.10 632.80,322.10 C633.82,322.10 634.03,327.58 634.80,331.60 C635.57,335.62 635.03,343.73 637.40,346.20 C639.77,348.67 647.07,346.37 649.00,346.40 L649.30,347.00 L501.80,347.00 Z" fill="#f27cbf" stroke="none"/>
<path d="M502.00,346.40 C502.17,346.25 502.40,346.32 503.00,345.50 C503.60,344.68 504.77,341.75 505.60,341.50 C506.43,341.25 507.10,344.55 508.00,344.00 C508.90,343.45 509.77,339.98 511.00,338.20 C512.23,336.42 514.18,333.30 515.40,333.30 C516.62,333.30 517.45,338.00 518.30,338.20 C519.15,338.40 519.77,339.02 520.50,334.50 C521.23,329.98 521.97,317.32 522.70,311.10 C523.43,304.88 524.05,298.18 524.90,297.20 C525.75,296.22 526.95,305.08 527.80,305.20 C528.65,305.32 529.38,300.43 530.00,297.90 C530.62,295.37 530.93,293.48 531.50,290.00 C532.07,286.52 532.82,277.67 533.40,277.00 C533.98,276.33 534.48,283.25 535.00,286.00 C535.52,288.75 535.90,293.67 536.50,293.50 C537.10,293.33 537.90,287.42 538.60,285.00 C539.30,282.58 540.07,278.50 540.70,279.00 C541.33,279.50 541.90,284.50 542.40,288.00 C542.90,291.50 543.22,293.33 543.70,300.00 C544.18,306.67 544.78,321.27 545.30,328.00 C545.82,334.73 546.35,341.40 546.80,340.40 C547.25,339.40 547.63,329.40 548.00,322.00 C548.37,314.60 548.60,305.00 549.00,296.00 C549.40,287.00 549.90,275.75 550.40,268.00 C550.90,260.25 551.50,250.50 552.00,249.50 C552.50,248.50 552.95,256.42 553.40,262.00 C553.85,267.58 554.33,277.00 554.70,283.00 C555.07,289.00 555.25,293.00 555.60,298.00 C555.95,303.00 556.27,308.25 556.80,313.00 C557.33,317.75 558.07,325.67 558.80,326.50 C559.53,327.33 560.35,319.47 561.20,318.00 C562.05,316.53 563.03,317.87 563.90,317.70 C564.77,317.53 565.55,316.27 566.40,317.00 C567.25,317.73 568.18,323.60 569.00,322.10 C569.82,320.60 570.62,311.42 571.30,308.00 C571.98,304.58 572.38,300.83 573.10,301.60 C573.82,302.37 574.70,307.70 575.60,312.60 C576.50,317.50 577.40,326.87 578.50,331.00 C579.60,335.13 580.85,335.97 582.20,337.40 C583.55,338.83 585.27,338.13 586.60,339.60 C587.93,341.07 589.10,345.10 590.20,346.20 C591.30,347.30 592.40,348.90 593.20,346.20 C594.00,343.50 594.35,336.22 595.00,330.00 C595.65,323.78 596.47,310.23 597.10,308.90 C597.73,307.57 598.23,317.98 598.80,322.00 C599.37,326.02 599.80,333.60 600.50,333.00 C601.20,332.40 602.28,318.07 603.00,318.40 C603.72,318.73 604.25,330.60 604.80,335.00 C605.35,339.40 605.68,342.93 606.30,344.80 C606.92,346.67 606.72,345.97 608.50,346.20 C610.28,346.43 615.23,349.85 617.00,346.20 C618.77,342.55 618.38,329.95 619.10,324.30 C619.82,318.65 620.57,313.52 621.30,312.30 C622.03,311.08 622.77,315.50 623.50,317.00 C624.23,318.50 624.83,318.87 625.70,321.30 C626.57,323.73 627.52,331.47 628.70,331.60 C629.88,331.73 631.78,322.10 632.80,322.10 C633.82,322.10 634.03,327.58 634.80,331.60 C635.57,335.62 635.03,343.73 637.40,346.20 C639.77,348.67 647.07,346.37 649.00,346.40" fill="none" stroke="#ff2a98" stroke-width="1.3" stroke-linejoin="round"/>
<path d="M502.00,346.80 C502.17,346.80 501.87,347.02 503.00,346.80 C504.13,346.58 506.62,346.33 508.80,345.50 C510.98,344.67 513.90,343.02 516.10,341.80 C518.30,340.58 519.80,341.62 522.00,338.20 C524.20,334.78 527.12,326.07 529.30,321.30 C531.48,316.53 533.28,313.50 535.10,309.60 C536.92,305.70 539.10,300.48 540.20,297.90 C541.30,295.32 541.08,296.33 541.70,294.10 C542.32,291.87 543.05,286.58 543.90,284.50 C544.75,282.42 545.82,282.22 546.80,281.60 C547.78,280.98 549.07,282.73 549.80,280.80 C550.53,278.87 550.70,273.13 551.20,270.00 C551.70,266.87 552.32,264.57 552.80,262.00 C553.28,259.43 553.62,257.65 554.10,254.60 C554.58,251.55 554.93,246.87 555.70,243.70 C556.47,240.53 557.35,238.17 558.70,235.60 C560.05,233.03 562.10,230.47 563.80,228.30 C565.50,226.13 567.87,223.83 568.90,222.60 C569.93,221.37 569.18,222.40 570.00,220.90 C570.82,219.40 572.55,215.52 573.80,213.60 C575.05,211.68 576.05,210.40 577.50,209.40 C578.95,208.40 580.83,208.15 582.50,207.60 C584.17,207.05 585.42,206.52 587.50,206.10 C589.58,205.68 593.12,205.80 595.00,205.10 C596.88,204.40 597.13,202.70 598.80,201.90 C600.47,201.10 601.88,200.67 605.00,200.30 C608.12,199.93 613.75,200.08 617.50,199.70 C621.25,199.32 624.37,198.42 627.50,198.00 C630.63,197.58 632.72,197.35 636.30,197.20 C639.88,197.05 646.88,197.12 649.00,197.10" fill="none" stroke="#ff2a98" stroke-width="1.4" stroke-linejoin="round"/>
</g>
<line x1="318.00" y1="226.90" x2="339.40" y2="226.90" stroke="#7dbdb6" stroke-width="1.5"/>
<path d="M344.40,226.90 L335.80,224.00 L337.60,226.90 L335.80,229.80 Z" fill="#3a8f8c"/>
<line x1="568.10" y1="227.00" x2="589.40" y2="227.00" stroke="#ff6db8" stroke-width="1.5"/>
<path d="M594.40,227.00 L585.80,224.10 L587.60,227.00 L585.80,229.90 Z" fill="#ff2a98"/>
<line x1="328.42" y1="191.30" x2="328.42" y2="347.00" stroke="#c8c8c8" stroke-width="1.1" stroke-dasharray="5 5.7"/>
<line x1="560.80" y1="191.30" x2="560.80" y2="347.00" stroke="#c8c8c8" stroke-width="1.1" stroke-dasharray="5 5.7"/>
<rect x="269.50" y="190.30" width="147.30" height="156.70" fill="none" stroke="#1a1a1a" stroke-width="1.20"/>
<text x="269.50" y="358.70" font-size="10.80" text-anchor="middle" >0</text>
<line x1="281.28" y1="347.00" x2="281.28" y2="345.20" stroke="#1a1a1a" stroke-width="1.1"/>
<line x1="293.07" y1="347.00" x2="293.07" y2="344.00" stroke="#1a1a1a" stroke-width="1.1"/>
<text x="293.07" y="358.70" font-size="10.80" text-anchor="middle" >2</text>
<line x1="304.85" y1="347.00" x2="304.85" y2="345.20" stroke="#1a1a1a" stroke-width="1.1"/>
<line x1="316.64" y1="347.00" x2="316.64" y2="344.00" stroke="#1a1a1a" stroke-width="1.1"/>
<text x="316.64" y="358.70" font-size="10.80" text-anchor="middle" >4</text>
<line x1="328.42" y1="347.00" x2="328.42" y2="345.20" stroke="#1a1a1a" stroke-width="1.1"/>
<line x1="340.20" y1="347.00" x2="340.20" y2="344.00" stroke="#1a1a1a" stroke-width="1.1"/>
<text x="340.20" y="358.70" font-size="10.80" text-anchor="middle" >6</text>
<line x1="351.99" y1="347.00" x2="351.99" y2="345.20" stroke="#1a1a1a" stroke-width="1.1"/>
<line x1="363.77" y1="347.00" x2="363.77" y2="344.00" stroke="#1a1a1a" stroke-width="1.1"/>
<text x="363.77" y="358.70" font-size="10.80" text-anchor="middle" >8</text>
<line x1="375.56" y1="347.00" x2="375.56" y2="345.20" stroke="#1a1a1a" stroke-width="1.1"/>
<line x1="387.34" y1="347.00" x2="387.34" y2="344.00" stroke="#1a1a1a" stroke-width="1.1"/>
<text x="387.34" y="358.70" font-size="10.80" text-anchor="middle" >10</text>
<line x1="399.12" y1="347.00" x2="399.12" y2="345.20" stroke="#1a1a1a" stroke-width="1.1"/>
<line x1="410.91" y1="347.00" x2="410.91" y2="344.00" stroke="#1a1a1a" stroke-width="1.1"/>
<text x="410.91" y="358.70" font-size="10.80" text-anchor="middle" >12</text>
<text x="343.35" y="372.60" font-size="12.25" text-anchor="middle" >Frequency (THz)</text>
<rect x="501.80" y="190.30" width="147.50" height="156.70" fill="none" stroke="#1a1a1a" stroke-width="1.20"/>
<text x="501.80" y="358.70" font-size="10.80" text-anchor="middle" >0</text>
<line x1="513.60" y1="347.00" x2="513.60" y2="345.20" stroke="#1a1a1a" stroke-width="1.1"/>
<line x1="525.40" y1="347.00" x2="525.40" y2="344.00" stroke="#1a1a1a" stroke-width="1.1"/>
<text x="525.40" y="358.70" font-size="10.80" text-anchor="middle" >2</text>
<line x1="537.20" y1="347.00" x2="537.20" y2="345.20" stroke="#1a1a1a" stroke-width="1.1"/>
<line x1="549.00" y1="347.00" x2="549.00" y2="344.00" stroke="#1a1a1a" stroke-width="1.1"/>
<text x="549.00" y="358.70" font-size="10.80" text-anchor="middle" >4</text>
<line x1="560.80" y1="347.00" x2="560.80" y2="345.20" stroke="#1a1a1a" stroke-width="1.1"/>
<line x1="572.60" y1="347.00" x2="572.60" y2="344.00" stroke="#1a1a1a" stroke-width="1.1"/>
<text x="572.60" y="358.70" font-size="10.80" text-anchor="middle" >6</text>
<line x1="584.40" y1="347.00" x2="584.40" y2="345.20" stroke="#1a1a1a" stroke-width="1.1"/>
<line x1="596.20" y1="347.00" x2="596.20" y2="344.00" stroke="#1a1a1a" stroke-width="1.1"/>
<text x="596.20" y="358.70" font-size="10.80" text-anchor="middle" >8</text>
<line x1="608.00" y1="347.00" x2="608.00" y2="345.20" stroke="#1a1a1a" stroke-width="1.1"/>
<line x1="619.80" y1="347.00" x2="619.80" y2="344.00" stroke="#1a1a1a" stroke-width="1.1"/>
<text x="619.80" y="358.70" font-size="10.80" text-anchor="middle" >10</text>
<line x1="631.60" y1="347.00" x2="631.60" y2="345.20" stroke="#1a1a1a" stroke-width="1.1"/>
<line x1="643.40" y1="347.00" x2="643.40" y2="344.00" stroke="#1a1a1a" stroke-width="1.1"/>
<text x="643.40" y="358.70" font-size="10.80" text-anchor="middle" >12</text>
<text x="575.75" y="372.60" font-size="12.25" text-anchor="middle" >Frequency (THz)</text>
<line x1="416.80" y1="190.90" x2="416.80" y2="346.40" stroke="#6e6e6e" stroke-width="1.4"/>
<line x1="501.80" y1="190.90" x2="501.80" y2="346.40" stroke="#6e6e6e" stroke-width="1.3"/>
<line x1="269.50" y1="347.00" x2="272.50" y2="347.00" stroke="#1a1a1a" stroke-width="1.1"/>
<text x="265.70" y="350.95" font-size="10.80" text-anchor="end" >0.0</text>
<line x1="269.50" y1="284.30" x2="272.50" y2="284.30" stroke="#1a1a1a" stroke-width="1.1"/>
<text x="265.70" y="288.25" font-size="10.80" text-anchor="end" >0.3</text>
<line x1="269.50" y1="221.60" x2="272.50" y2="221.60" stroke="#1a1a1a" stroke-width="1.1"/>
<text x="265.70" y="225.55" font-size="10.80" text-anchor="end" >0.6</text>
<line x1="269.50" y1="315.65" x2="271.30" y2="315.65" stroke="#1a1a1a" stroke-width="1.1"/>
<line x1="269.50" y1="252.95" x2="271.30" y2="252.95" stroke="#1a1a1a" stroke-width="1.1"/>
<line x1="416.80" y1="347.00" x2="413.80" y2="347.00" stroke="#1a1a1a" stroke-width="1.1"/>
<text x="420.10" y="350.95" font-size="10.80" text-anchor="start" >0.0</text>
<line x1="416.80" y1="291.00" x2="413.80" y2="291.00" stroke="#1a1a1a" stroke-width="1.1"/>
<text x="420.10" y="294.95" font-size="10.80" text-anchor="start" >0.5</text>
<line x1="416.80" y1="235.00" x2="413.80" y2="235.00" stroke="#1a1a1a" stroke-width="1.1"/>
<text x="420.10" y="238.95" font-size="10.80" text-anchor="start" >1.0</text>
<line x1="416.80" y1="319.00" x2="415.00" y2="319.00" stroke="#1a1a1a" stroke-width="1.1"/>
<line x1="416.80" y1="263.00" x2="415.00" y2="263.00" stroke="#1a1a1a" stroke-width="1.1"/>
<line x1="416.80" y1="207.00" x2="415.00" y2="207.00" stroke="#1a1a1a" stroke-width="1.1"/>
<line x1="501.80" y1="347.00" x2="504.80" y2="347.00" stroke="#1a1a1a" stroke-width="1.1"/>
<text x="498.00" y="350.95" font-size="10.80" text-anchor="end" >0.0</text>
<line x1="501.80" y1="204.40" x2="504.80" y2="204.40" stroke="#1a1a1a" stroke-width="1.1"/>
<text x="498.00" y="208.35" font-size="10.80" text-anchor="end" >0.1</text>
<line x1="501.80" y1="275.70" x2="503.60" y2="275.70" stroke="#1a1a1a" stroke-width="1.1"/>
<line x1="649.30" y1="347.00" x2="646.30" y2="347.00" stroke="#1a1a1a" stroke-width="1.1"/>
<text x="652.60" y="350.95" font-size="10.80" text-anchor="start" >0.0</text>
<line x1="649.30" y1="270.80" x2="646.30" y2="270.80" stroke="#1a1a1a" stroke-width="1.1"/>
<text x="652.60" y="274.75" font-size="10.80" text-anchor="start" >0.1</text>
<line x1="649.30" y1="194.60" x2="646.30" y2="194.60" stroke="#1a1a1a" stroke-width="1.1"/>
<text x="652.60" y="198.55" font-size="10.80" text-anchor="start" >0.2</text>
<line x1="649.30" y1="308.90" x2="647.50" y2="308.90" stroke="#1a1a1a" stroke-width="1.1"/>
<line x1="649.30" y1="232.70" x2="647.50" y2="232.70" stroke="#1a1a1a" stroke-width="1.1"/>
<text x="279.60" y="205.00" font-size="11.00" text-anchor="start" >300 K</text>
<text x="512.60" y="205.00" font-size="11.00" text-anchor="start" >300 K</text>
<text x="372.90" y="210.00" font-size="10.60" text-anchor="start" >3+4ph</text>
<text x="605.60" y="210.00" font-size="10.60" text-anchor="start" >3+4ph</text>
<text transform="translate(245.00,268.00) rotate(-90)" x="0" y="0" font-size="12.4" text-anchor="middle"><tspan>Spectral </tspan><tspan font-style="italic">κ</tspan><tspan font-size="8.10" dy="2.60">p</tspan><tspan dy="-2.60"> (W m</tspan><tspan font-size="8.00" dy="-4.80">-1</tspan><tspan dy="4.80"> K</tspan><tspan font-size="8.00" dy="-4.80">-1</tspan><tspan dy="4.80"> THz</tspan><tspan font-size="8.00" dy="-4.80">-1</tspan><tspan dy="4.80">)</tspan></text>
<text transform="translate(478.30,267.90) rotate(-90)" x="0" y="0" font-size="12.4" text-anchor="middle"><tspan>Spectral </tspan><tspan font-style="italic">κ</tspan><tspan font-size="8.10" dy="2.60">c</tspan><tspan dy="-2.60"> (W m</tspan><tspan font-size="8.00" dy="-4.80">-1</tspan><tspan dy="4.80"> K</tspan><tspan font-size="8.00" dy="-4.80">-1</tspan><tspan dy="4.80"> THz</tspan><tspan font-size="8.00" dy="-4.80">-1</tspan><tspan dy="4.80">)</tspan></text>
<text transform="translate(448.30,268.10) rotate(-90)" x="0" y="0" font-size="11.7" text-anchor="middle"><tspan>Cumulative </tspan><tspan font-style="italic">κ</tspan><tspan font-size="8.10" dy="2.60">p</tspan><tspan dy="-2.60"> (W m</tspan><tspan font-size="8.00" dy="-4.80">-1</tspan><tspan dy="4.80"> K</tspan><tspan font-size="8.00" dy="-4.80">-1</tspan><tspan dy="4.80">)</tspan></text>
<text transform="translate(681.30,269.10) rotate(-90)" x="0" y="0" font-size="12.2" text-anchor="middle"><tspan>Cumulative </tspan><tspan font-style="italic">κ</tspan><tspan font-size="8.10" dy="2.60">c</tspan><tspan dy="-2.60"> (W m</tspan><tspan font-size="8.00" dy="-4.80">-1</tspan><tspan dy="4.80"> K</tspan><tspan font-size="8.00" dy="-4.80">-1</tspan><tspan dy="4.80">)</tspan></text>
</svg>
</body></html>
